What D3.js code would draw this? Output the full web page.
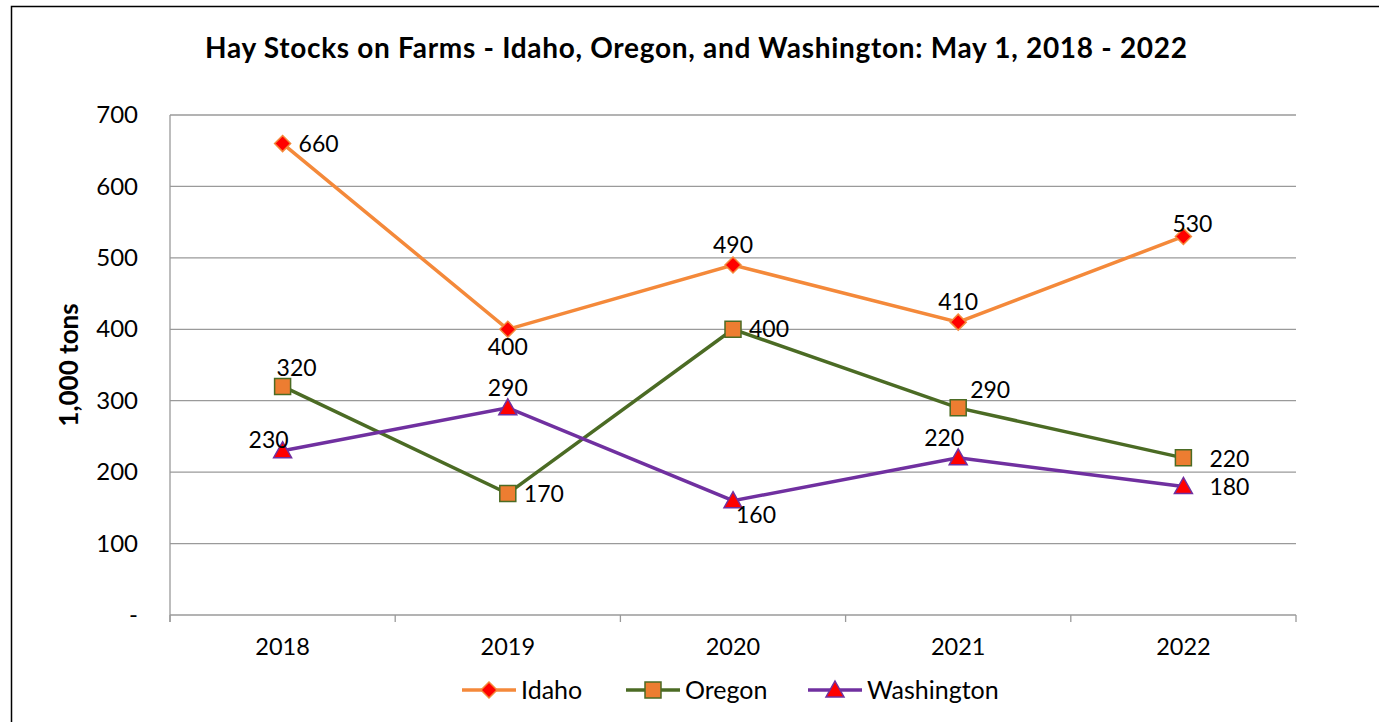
<!DOCTYPE html>
<html>
<head>
<meta charset="utf-8">
<script src="https://cdn.jsdelivr.net/npm/d3@7"></script>
<style>
  body { margin: 0; background: #fff; }
  svg text { font-family: "Lato", "Open Sans", sans-serif; fill: #000; }
</style>
</head>
<body>
<div id="chart"></div>
<script>
// data
var years = ["2018", "2019", "2020", "2021", "2022"];
var idaho = [660, 400, 490, 410, 530];
var oregon = [320, 170, 400, 290, 220];
var washington = [230, 290, 160, 220, 180];
var yTicks = [0, 100, 200, 300, 400, 500, 600, 700];

// chart setup
var svgWidth = 1379;
var svgHeight = 722;
var margin = { top: 115, right: 83, bottom: 107, left: 170 };
var width = svgWidth - margin.left - margin.right;
var height = svgHeight - margin.top - margin.bottom;

var svg = d3.select("#chart")
    .append("svg")
    .attr("width", svgWidth)
    .attr("height", svgHeight);

// outer frame
svg.append("rect")
    .attr("x", 11.5).attr("y", 6.5)
    .attr("width", 1400).attr("height", 800)
    .attr("fill", "none")
    .attr("stroke", "#000")
    .attr("stroke-width", 1.5);

var chartGroup = svg.append("g")
    .attr("transform", `translate(${margin.left}, ${margin.top})`);

var xScale = d3.scaleBand().domain(years).range([0, width]).padding(0);
var yScale = d3.scaleLinear().domain([0, 700]).range([height, 0]);
var cx = d => xScale(d) + xScale.bandwidth() / 2;

// gridlines
chartGroup.append("g")
    .selectAll("line")
    .data(yTicks)
    .enter()
    .append("line")
    .attr("x1", 0).attr("x2", width)
    .attr("y1", d => yScale(d)).attr("y2", d => yScale(d))
    .attr("stroke", "#9a9a9a")
    .attr("stroke-width", 1.3);

// y axis
var leftAxis = d3.axisLeft(yScale)
    .tickValues(yTicks)
    .tickSize(0)
    .tickPadding(32)
    .tickFormat(d => d === 0 ? "-" : d);
var yAxisG = chartGroup.append("g").call(leftAxis);
yAxisG.select(".domain").remove();
yAxisG.selectAll("text").style("font-size", "24px").attr("font-family", null);

chartGroup.append("line")
    .attr("x1", 0).attr("x2", 0)
    .attr("y1", 0).attr("y2", height + 7)
    .attr("stroke", "#9a9a9a").attr("stroke-width", 1.3);

// x axis
var bottomAxis = d3.axisBottom(xScale).tickSize(0).tickPadding(23);
var xAxisG = chartGroup.append("g")
    .attr("transform", `translate(0, ${height})`)
    .call(bottomAxis);
xAxisG.select(".domain").remove();
xAxisG.selectAll("text").style("font-size", "23.5px").attr("font-family", null);

// category boundary ticks
chartGroup.append("g")
    .selectAll("line")
    .data(years.concat(["end"]))
    .enter()
    .append("line")
    .attr("x1", (d, i) => i * xScale.bandwidth())
    .attr("x2", (d, i) => i * xScale.bandwidth())
    .attr("y1", height).attr("y2", height + 7)
    .attr("stroke", "#9a9a9a").attr("stroke-width", 1.3);

// y axis title
svg.append("text")
    .attr("transform", "translate(78, 365) rotate(-90)")
    .style("text-anchor", "middle")
    .style("font-weight", "bold")
    .style("font-size", "26px")
    .text("1,000 tons");

// title
svg.append("text")
    .attr("x", 696)
    .attr("y", 58)
    .attr("textLength", 982)
    .attr("lengthAdjust", "spacing")
    .style("text-anchor", "middle")
    .style("font-weight", "bold")
    .style("font-size", "28px")
    .text("Hay Stocks on Farms - Idaho, Oregon, and Washington: May 1, 2018 - 2022");

// series definitions
var series = [
    { name: "Idaho", values: idaho, line: "#f4893a", fill: "#ff0000", stroke: "#f4893a", shape: "diamond",
      labels: ["r", "b", "t", "t", "tr2"] },
    { name: "Oregon", values: oregon, line: "#4b6b24", fill: "#ed7d31", stroke: "#4b6b24", shape: "square",
      labels: ["tr", "r", "r", "ur", "r2"] },
    { name: "Washington", values: washington, line: "#7030a0", fill: "#ff0000", stroke: "#7030a0", shape: "triangle",
      labels: ["tl2", "t", "br", "tl", "r2"] }
];

function markerPath(shape) {
    if (shape === "diamond") return "M0,-8L8,0L0,8L-8,0Z";
    if (shape === "square") return "M-8,-8L8,-8L8,8L-8,8Z";
    return "M0,-9L9,7L-9,7Z";
}

var lineGen = d3.line()
    .x((d, i) => cx(years[i]))
    .y(d => yScale(d));

series.forEach(function(s) {
    chartGroup.append("path")
        .datum(s.values)
        .attr("d", lineGen)
        .attr("fill", "none")
        .attr("stroke", s.line)
        .attr("stroke-width", 3.5);
});

series.forEach(function(s) {
    chartGroup.selectAll(null)
        .data(s.values)
        .enter()
        .append("path")
        .attr("d", markerPath(s.shape))
        .attr("transform", (d, i) => `translate(${cx(years[i])}, ${yScale(d)})`)
        .attr("fill", s.fill)
        .attr("stroke", s.stroke)
        .attr("stroke-width", 1.5);
});

// data labels
var offsets = {
    r: [16, 8, "start"],
    r2: [26, 9, "start"],
    b: [0, 26, "middle"],
    t: [0, -12, "middle"],
    tr: [14, -10, "middle"],
    tr2: [9, -4, "middle"],
    ur: [12, -10, "start"],
    tl: [-14, -12, "middle"],
    tl2: [-14, -3, "middle"],
    br: [3, 22, "start"]
};
series.forEach(function(s) {
    chartGroup.selectAll(null)
        .data(s.values)
        .enter()
        .append("text")
        .attr("x", (d, i) => cx(years[i]) + offsets[s.labels[i]][0])
        .attr("y", (d, i) => yScale(d) + offsets[s.labels[i]][1])
        .style("text-anchor", (d, i) => offsets[s.labels[i]][2])
        .style("font-size", "23px")
        .text(d => d);
});

// legend
var legendX = [462, 626, 808];
var legend = svg.append("g");
series.forEach(function(s, i) {
    var g = legend.append("g").attr("transform", `translate(${legendX[i]}, 690)`);
    g.append("line")
        .attr("x1", 0).attr("x2", 54)
        .attr("y1", 0).attr("y2", 0)
        .attr("stroke", s.line).attr("stroke-width", 3.5);
    g.append("path")
        .attr("d", markerPath(s.shape))
        .attr("transform", "translate(27, 0)")
        .attr("fill", s.fill)
        .attr("stroke", s.stroke)
        .attr("stroke-width", 1.5);
    g.append("text")
        .attr("x", 59)
        .attr("y", 9)
        .style("font-size", "25px")
        .text(s.name);
});
</script>
</body>
</html>
